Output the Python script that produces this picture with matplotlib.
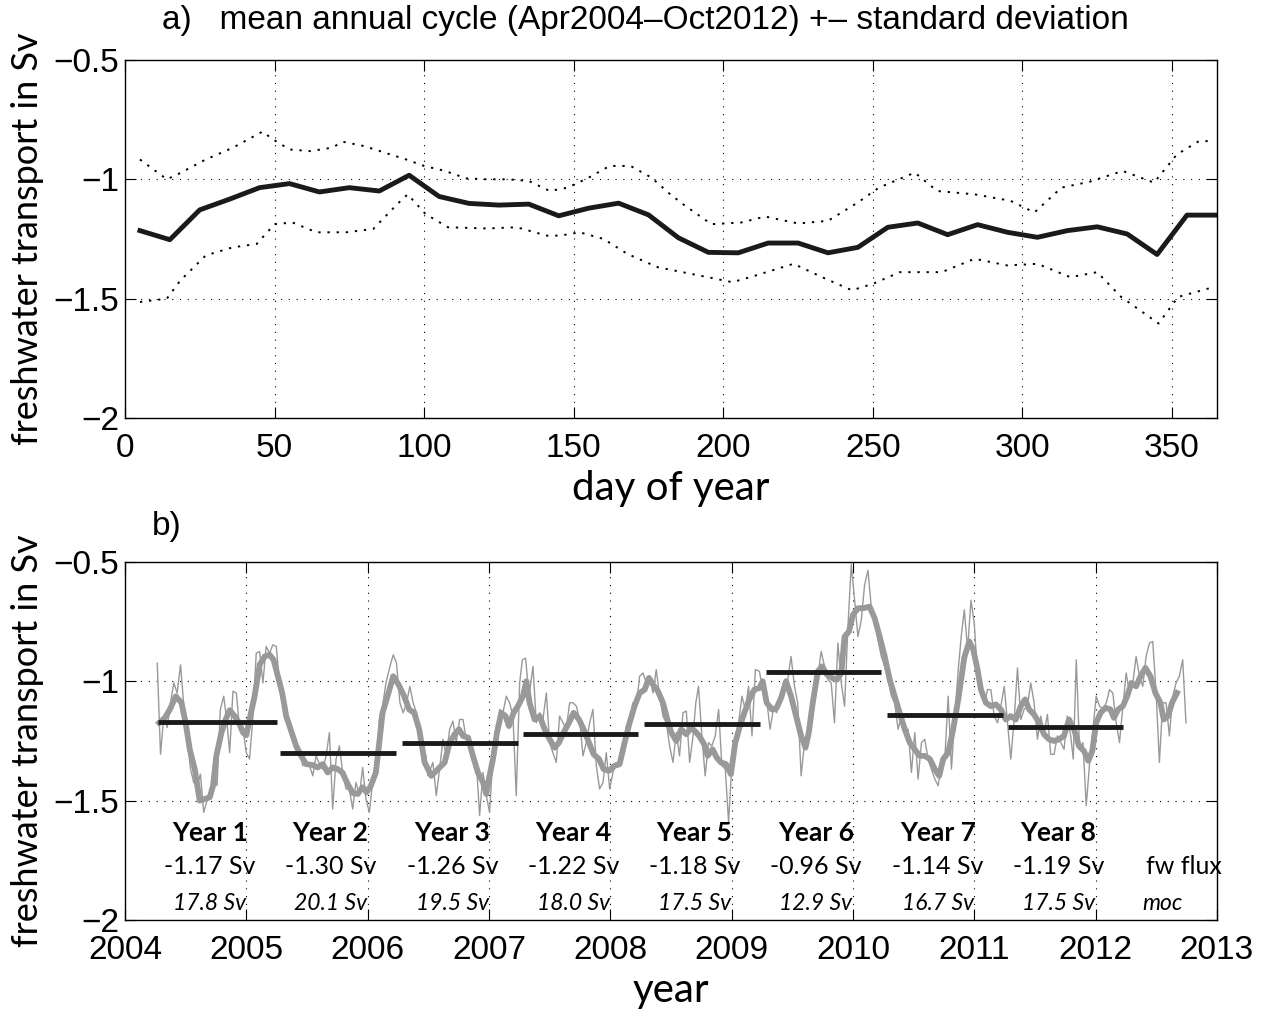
import numpy as np
import matplotlib
matplotlib.use("Agg")
import matplotlib.pyplot as plt

# ---- panel a: mean annual cycle +- std ----
day_mean = [5, 15, 25, 35, 45, 55, 65, 75, 85, 95, 105, 115, 125, 135, 145, 155,
            165, 175, 185, 195, 205, 215, 225, 235, 245, 255, 265, 275, 285, 295,
            305, 315, 325, 335, 345, 355, 365]
fw_mean = [-1.215, -1.253, -1.128, -1.083, -1.035, -1.018, -1.053, -1.035, -1.049,
           -0.983, -1.072, -1.101, -1.108, -1.104, -1.153, -1.121, -1.100, -1.149,
           -1.245, -1.306, -1.308, -1.267, -1.267, -1.308, -1.285, -1.201, -1.183,
           -1.232, -1.190, -1.222, -1.243, -1.215, -1.199, -1.229, -1.315, -1.150,
           -1.150]

day_upper = [5, 14, 17.5, 27, 36, 46, 49.5, 55, 62, 69, 73, 80, 87, 94, 100, 107,
             114, 121, 128, 135, 142, 148, 155, 162, 169, 176, 182, 186.5, 196, 206,
             214, 225, 235, 245, 252, 264, 271.5, 284, 296, 304, 313, 322.5, 333.5,
             344, 351.6, 359, 364]
fw_upper = [-0.917, -1.0, -0.98, -0.917, -0.868, -0.80, -0.833, -0.875, -0.882,
            -0.868, -0.843, -0.861, -0.889, -0.917, -0.944, -0.965, -0.996, -1.0,
            -1.0, -1.007, -1.049, -1.035, -0.993, -0.944, -0.944, -0.993, -1.06,
            -1.104, -1.188, -1.181, -1.156, -1.185, -1.174, -1.097, -1.035, -0.972,
            -1.049, -1.063, -1.09, -1.139, -1.035, -1.01, -0.965, -1.014, -0.896,
            -0.840, -0.840]

day_lower = [5, 14, 18.5, 27, 36, 44, 50, 56, 64, 74, 83, 91, 94.5, 100.5, 108, 121,
             131, 141, 145.5, 152, 160, 168, 178, 192, 203, 209, 223.5, 233, 243,
             250, 259, 273, 284, 295, 305, 316, 325, 333, 345.5, 352, 362, 364]
fw_lower = [-1.514, -1.5, -1.424, -1.319, -1.285, -1.271, -1.188, -1.181, -1.222,
            -1.222, -1.208, -1.104, -1.063, -1.146, -1.201, -1.206, -1.201, -1.236,
            -1.236, -1.222, -1.25, -1.313, -1.368, -1.403, -1.431, -1.41, -1.354,
            -1.41, -1.465, -1.438, -1.389, -1.389, -1.333, -1.361, -1.354, -1.41,
            -1.389, -1.493, -1.604, -1.493, -1.458, -1.463]

# ---- panel b: time series ----
t_thin = [2004.266, 2004.293, 2004.32, 2004.348, 2004.375, 2004.403, 2004.43, 2004.458,
          2004.485, 2004.512, 2004.54, 2004.567, 2004.595, 2004.622, 2004.649, 2004.677,
          2004.704, 2004.732, 2004.759, 2004.786, 2004.814, 2004.841, 2004.863, 2004.89,
          2004.918, 2004.945, 2004.973, 2005.0, 2005.027, 2005.055, 2005.082, 2005.11,
          2005.137, 2005.164, 2005.192, 2005.219, 2005.247, 2005.274, 2005.301, 2005.329,
          2005.356, 2005.384, 2005.411, 2005.438, 2005.466, 2005.493, 2005.521, 2005.548,
          2005.575, 2005.603, 2005.63, 2005.658, 2005.685, 2005.712, 2005.74, 2005.767,
          2005.795, 2005.822, 2005.849, 2005.877, 2005.904, 2005.932, 2005.959, 2005.986,
          2006.014, 2006.041, 2006.068, 2006.096, 2006.123, 2006.151, 2006.184, 2006.211,
          2006.238, 2006.266, 2006.293, 2006.321, 2006.348, 2006.375, 2006.403, 2006.438,
          2006.479, 2006.497, 2006.538, 2006.566, 2006.593, 2006.621, 2006.648, 2006.676,
          2006.703, 2006.731, 2006.758, 2006.786, 2006.813, 2006.841, 2006.868, 2006.896,
          2006.923, 2006.951, 2006.978, 2007.005, 2007.033, 2007.06, 2007.088, 2007.115,
          2007.143, 2007.17, 2007.198, 2007.225, 2007.253, 2007.275, 2007.302, 2007.33,
          2007.363, 2007.39, 2007.418, 2007.445, 2007.473, 2007.5, 2007.527, 2007.555,
          2007.582, 2007.61, 2007.637, 2007.665, 2007.692, 2007.72, 2007.747, 2007.775,
          2007.802, 2007.83, 2007.857, 2007.885, 2007.912, 2007.94, 2007.967, 2007.995,
          2008.022, 2008.049, 2008.077, 2008.104, 2008.132, 2008.159, 2008.187, 2008.214,
          2008.242, 2008.269, 2008.297, 2008.324, 2008.352, 2008.379, 2008.407, 2008.434,
          2008.462, 2008.489, 2008.517, 2008.544, 2008.571, 2008.599, 2008.627, 2008.654,
          2008.682, 2008.705, 2008.727, 2008.755, 2008.782, 2008.81, 2008.837, 2008.865,
          2008.893, 2008.92, 2008.948, 2008.975, 2009.003, 2009.03, 2009.058, 2009.085,
          2009.113, 2009.14, 2009.168, 2009.196, 2009.229, 2009.262, 2009.289, 2009.317,
          2009.344, 2009.372, 2009.4, 2009.427, 2009.455, 2009.49, 2009.518, 2009.545,
          2009.573, 2009.601, 2009.628, 2009.656, 2009.683, 2009.711, 2009.738, 2009.766,
          2009.793, 2009.821, 2009.848, 2009.876, 2009.904, 2009.931, 2009.959, 2009.986,
          2010.014, 2010.041, 2010.069, 2010.096, 2010.124, 2010.151, 2010.179, 2010.206,
          2010.234, 2010.262, 2010.289, 2010.317, 2010.344, 2010.372, 2010.399, 2010.427,
          2010.455, 2010.482, 2010.51, 2010.537, 2010.565, 2010.592, 2010.62, 2010.647,
          2010.675, 2010.702, 2010.73, 2010.757, 2010.785, 2010.812, 2010.84, 2010.868,
          2010.895, 2010.918, 2010.945, 2010.973, 2011.0, 2011.027, 2011.055, 2011.082,
          2011.11, 2011.137, 2011.164, 2011.192, 2011.219, 2011.247, 2011.274, 2011.301,
          2011.329, 2011.356, 2011.384, 2011.411, 2011.438, 2011.466, 2011.493, 2011.521,
          2011.548, 2011.575, 2011.603, 2011.63, 2011.658, 2011.685, 2011.712, 2011.74,
          2011.767, 2011.795, 2011.816, 2011.841, 2011.868, 2011.896, 2011.923, 2011.951,
          2011.978, 2012.005, 2012.033, 2012.06, 2012.088, 2012.115, 2012.142, 2012.17,
          2012.197, 2012.225, 2012.252, 2012.279, 2012.307, 2012.334, 2012.362, 2012.389,
          2012.416, 2012.444, 2012.471, 2012.499, 2012.526, 2012.553, 2012.581, 2012.608,
          2012.636, 2012.663, 2012.69, 2012.718, 2012.745]
fw_thin = [-0.924, -1.306, -1.146, -1.194, -1.09, -1.007, -1.049, -0.931,
           -1.104, -1.229, -1.368, -1.424, -1.4375, -1.389, -1.549, -1.5,
           -1.479, -1.382, -1.4375, -1.118, -1.0625, -1.174, -1.299, -1.042,
           -1.049, -1.201, -1.201, -1.299, -1.326, -1.146, -0.882, -0.875,
           -1.007, -0.854, -0.882, -0.847, -0.854, -1.007, -1.0625, -1.16,
           -1.201, -1.229, -1.299, -1.299, -1.354, -1.333, -1.354, -1.396,
           -1.3125, -1.347, -1.368, -1.3125, -1.215, -1.535, -1.326, -1.271,
           -1.382, -1.451, -1.451, -1.535, -1.424, -1.479, -1.361, -1.493,
           -1.549, -1.424, -1.396, -1.16, -1.104, -1.007, -0.9375, -0.889,
           -0.924, -1.09, -1.132, -1.09, -1.021, -1.09, -1.132, -1.229,
           -1.3125, -1.396, -1.34, -1.479, -1.368, -1.243, -1.3125, -1.201,
           -1.167, -1.257, -1.16, -1.16, -1.243, -1.229, -1.285, -1.34,
           -1.5625, -1.382, -1.479, -1.549, -1.3125, -1.299, -1.118, -1.132,
           -1.0625, -1.09, -1.146, -1.479, -1.007, -0.910, -0.903, -1.0625,
           -0.9375, -1.174, -1.132, -1.16, -1.049, -1.257, -1.299, -1.34,
           -1.146, -1.174, -1.201, -1.09, -1.09, -1.104, -1.16, -1.3125,
           -1.257, -1.174, -1.118, -1.354, -1.451, -1.424, -1.299, -1.451,
           -1.382, -1.34, -1.354, -1.3125, -1.1875, -1.174, -1.09, -1.104,
           -0.979, -0.965, -1.007, -0.979, -1.049, -0.951, -1.0625, -1.146,
           -1.174, -1.271, -1.34, -1.215, -1.3125, -1.132, -1.125, -1.34,
           -1.229, -1.09, -1.021, -1.229, -1.396, -1.257, -1.271, -1.229,
           -1.118, -1.354, -1.368, -1.59, -1.34, -1.257, -1.174, -1.0625,
           -1.118, -1.021, -1.229, -0.951, -0.958, -1.049, -1.076, -1.201,
           -1.118, -1.132, -1.0625, -1.007, -1.021, -0.896, -1.021, -1.09,
           -1.396, -1.257, -1.229, -1.16, -1.035, -0.979, -0.875, -0.9375,
           -0.993, -1.007, -1.174, -0.840, -1.007, -1.104, -0.771, -0.51,
           -0.66, -0.8125, -0.743, -0.597, -0.535, -0.6875, -0.743, -0.826,
           -0.896, -0.9375, -0.993, -1.0625, -1.09, -1.201, -1.146, -1.215,
           -1.201, -1.382, -1.215, -1.41, -1.257, -1.243, -1.326, -1.368,
           -1.41, -1.4375, -1.354, -1.326, -1.0625, -1.368, -1.146, -0.951,
           -0.80, -0.701, -0.868, -0.66, -0.757, -0.979, -1.049, -1.09,
           -1.035, -1.035, -1.146, -1.174, -1.104, -1.021, -1.174, -1.326,
           -1.16, -0.944, -1.16, -1.118, -1.104, -1.007, -1.09, -1.243,
           -1.146, -1.215, -1.139, -1.306, -1.306, -1.229, -1.257, -1.285,
           -1.146, -1.229, -1.326, -0.910, -1.285, -1.257, -1.521, -1.34,
           -1.201, -1.0625, -1.104, -1.118, -1.09, -1.035, -1.049, -1.174,
           -1.257, -1.104, -0.965, -1.049, -1.007, -0.896, -0.979, -1.021,
           -0.896, -0.840, -0.833, -1.049, -1.34, -1.09, -1.09, -1.229,
           -1.0625, -1.007, -0.979, -0.910, -1.174]

t_smooth = [2004.282, 2004.329, 2004.37, 2004.419, 2004.466, 2004.50, 2004.534, 2004.575,
            2004.616, 2004.658, 2004.699, 2004.726, 2004.753, 2004.795, 2004.83, 2004.863,
            2004.904, 2004.94, 2004.973, 2005.0, 2005.027, 2005.068, 2005.11, 2005.151,
            2005.192, 2005.225, 2005.26, 2005.296, 2005.329, 2005.37, 2005.411, 2005.452,
            2005.493, 2005.548, 2005.589, 2005.63, 2005.671, 2005.712, 2005.753, 2005.792,
            2005.836, 2005.877, 2005.918, 2005.959, 2005.992, 2006.027, 2006.068, 2006.096,
            2006.123, 2006.164, 2006.211, 2006.255, 2006.301, 2006.342, 2006.384, 2006.425,
            2006.47, 2006.525, 2006.58, 2006.635, 2006.676, 2006.717, 2006.753, 2006.786,
            2006.827, 2006.868, 2006.909, 2006.951, 2006.978, 2007.005, 2007.033, 2007.066,
            2007.102, 2007.137, 2007.165, 2007.203, 2007.239, 2007.28, 2007.308, 2007.335,
            2007.376, 2007.418, 2007.459, 2007.5, 2007.541, 2007.577, 2007.615, 2007.659,
            2007.698, 2007.742, 2007.78, 2007.824, 2007.863, 2007.907, 2007.945, 2007.989,
            2008.036, 2008.077, 2008.118, 2008.159, 2008.2, 2008.242, 2008.283, 2008.319,
            2008.352, 2008.393, 2008.434, 2008.47, 2008.503, 2008.544, 2008.585, 2008.626,
            2008.668, 2008.709, 2008.733, 2008.774, 2008.802, 2008.843, 2008.876, 2008.912,
            2008.953, 2008.994, 2009.03, 2009.069, 2009.105, 2009.146, 2009.187, 2009.229,
            2009.256, 2009.289, 2009.333, 2009.372, 2009.408, 2009.449, 2009.49, 2009.532,
            2009.573, 2009.609, 2009.636, 2009.669, 2009.711, 2009.747, 2009.785, 2009.829,
            2009.868, 2009.904, 2009.931, 2009.967, 2010.0, 2010.041, 2010.083, 2010.138,
            2010.179, 2010.22, 2010.262, 2010.303, 2010.344, 2010.385, 2010.427, 2010.468,
            2010.509, 2010.551, 2010.592, 2010.634, 2010.675, 2010.711, 2010.744, 2010.785,
            2010.826, 2010.868, 2010.918, 2010.959, 2010.992, 2011.027, 2011.055, 2011.096,
            2011.137, 2011.178, 2011.219, 2011.26, 2011.301, 2011.342, 2011.384, 2011.419,
            2011.452, 2011.493, 2011.534, 2011.575, 2011.616, 2011.658, 2011.699, 2011.74,
            2011.781, 2011.822, 2011.863, 2011.904, 2011.94, 2011.973, 2012.005, 2012.041,
            2012.082, 2012.123, 2012.151, 2012.186, 2012.225, 2012.26, 2012.296, 2012.334,
            2012.37, 2012.411, 2012.452, 2012.493, 2012.534, 2012.562, 2012.597, 2012.63,
            2012.671]
fw_smooth = [-1.174, -1.153, -1.118, -1.063, -1.09, -1.174, -1.285, -1.368,
             -1.50, -1.493, -1.486, -1.4375, -1.3125, -1.215, -1.16, -1.121,
             -1.146, -1.174, -1.215, -1.226, -1.16, -1.063, -0.931, -0.896,
             -0.889, -0.910, -0.979, -1.049, -1.146, -1.208, -1.271, -1.3125,
             -1.347, -1.351, -1.361, -1.347, -1.382, -1.361, -1.368, -1.382,
             -1.431, -1.468, -1.472, -1.444, -1.465, -1.4375, -1.382, -1.257,
             -1.132, -1.0625, -0.979, -1.014, -1.0625, -1.118, -1.132, -1.201,
             -1.34, -1.396, -1.368, -1.34, -1.257, -1.222, -1.201, -1.229,
             -1.236, -1.3125, -1.382, -1.424, -1.472, -1.396, -1.326, -1.215,
             -1.132, -1.146, -1.1875, -1.132, -1.104, -1.0625, -1.0, -1.09,
             -1.16, -1.146, -1.201, -1.243, -1.278, -1.257, -1.215, -1.174,
             -1.132, -1.16, -1.201, -1.257, -1.306, -1.326, -1.368, -1.375,
             -1.354, -1.347, -1.257, -1.174, -1.104, -1.049, -1.035, -0.986,
             -1.014, -1.042, -1.09, -1.16, -1.215, -1.25, -1.201, -1.222,
             -1.194, -1.215, -1.229, -1.264, -1.3125, -1.285, -1.319, -1.34,
             -1.347, -1.389, -1.257, -1.1875, -1.132, -1.076, -1.035, -1.028,
             -1.0, -1.09, -1.118, -1.111, -1.069, -1.0, -1.0625, -1.146,
             -1.229, -1.278, -1.215, -1.09, -0.958, -0.9375, -0.972, -0.986,
             -0.993, -0.965, -0.8125, -0.792, -0.722, -0.694, -0.694, -0.6875,
             -0.736, -0.8125, -0.896, -0.993, -1.0625, -1.132, -1.201, -1.257,
             -1.285, -1.3125, -1.3125, -1.326, -1.368, -1.396, -1.326, -1.299,
             -1.201, -1.076, -0.90, -0.833, -0.868, -0.951, -1.035, -1.09,
             -1.104, -1.097, -1.118, -1.16, -1.146, -1.16, -1.104, -1.076,
             -1.118, -1.139, -1.174, -1.222, -1.243, -1.25, -1.243, -1.229,
             -1.16, -1.201, -1.271, -1.292, -1.333, -1.292, -1.174, -1.132,
             -1.111, -1.118, -1.153, -1.118, -1.104, -1.0625, -1.007, -1.021,
             -0.979, -0.944, -0.979, -1.049, -1.09, -1.16, -1.146, -1.09,
             -1.049]

# annual means (fw flux) and moc per year
year_start = [2004.27, 2005.28, 2006.28, 2007.28, 2008.28, 2009.28, 2010.28, 2011.28]
year_end = [2005.25, 2006.23, 2007.24, 2008.23, 2009.23, 2010.23, 2011.24, 2012.23]
fw_year = [-1.17, -1.30, -1.26, -1.22, -1.18, -0.96, -1.14, -1.19]
moc_year = [17.8, 20.1, 19.5, 18.0, 17.5, 12.9, 16.7, 17.5]
year_names = ["Year 1", "Year 2", "Year 3", "Year 4", "Year 5", "Year 6", "Year 7", "Year 8"]

tick_font = "Liberation Sans"
label_font = "Lato"
gray = "#999999"


def style_axes(ax):
    ax.set_ylim(-2, -0.5)
    ax.set_yticks([-2, -1.5, -1, -0.5])
    ax.set_yticklabels(["\u22122", "\u22121.5", "\u22121", "\u22120.5"])
    ax.grid(True, color="black", linestyle=(0, (1, 6)), linewidth=0.8)
    ax.tick_params(direction="in", length=8, width=0.8, top=True, right=True,
                   labelsize=24)
    ax.tick_params(axis="x", pad=11)
    ax.tick_params(axis="y", pad=4)
    for lab in ax.get_xticklabels() + ax.get_yticklabels():
        lab.set_fontfamily(tick_font)
    for sp in ax.spines.values():
        sp.set_linewidth(1.0)
    ax.set_ylabel("freshwater transport in Sv", fontsize=26, family=label_font,
                  labelpad=7)


fig = plt.figure(figsize=(12.7, 10.18), dpi=100)
ax1 = fig.add_axes([0.0984, 0.5894, 0.8598, 0.3517])
ax2 = fig.add_axes([0.0984, 0.0963, 0.8598, 0.3517])

# panel a
ax1.plot(day_upper, fw_upper, color="black", linestyle=(0, (1.2, 3.5)), linewidth=1.4)
ax1.plot(day_lower, fw_lower, color="black", linestyle=(0, (1.2, 3.5)), linewidth=1.4)
ax1.plot(day_mean, fw_mean, color="#1a1a1a", linewidth=3.5)
ax1.set_xlim(0, 365)
ax1.set_xticks(range(0, 351, 50))
style_axes(ax1)
ax1.set_xlabel("day of year", fontsize=29, family=label_font, labelpad=4)
fig.text(645 / 1270, 1 - 21 / 1018,
         "a)   mean annual cycle (Apr2004\u2013Oct2012) +\u2013 standard deviation",
         ha="center", va="center", fontsize=24, family=tick_font)

# panel b
ax2.plot(t_thin, fw_thin, color=gray, linewidth=1.0)
ax2.plot(t_smooth, fw_smooth, color=gray, linewidth=4.2, solid_joinstyle="round")
ax2.hlines(fw_year, year_start, year_end, colors="#1a1a1a", linewidth=3.5)
ax2.set_xlim(2004, 2013)
ax2.set_xticks(range(2004, 2014))
style_axes(ax2)
ax2.set_xlabel("year", fontsize=29, family=label_font, labelpad=4)
fig.text(152 / 1270, 1 - 527 / 1018, "b)", ha="left", va="center",
         fontsize=24, family=tick_font)

for s, e, name, fw, moc in zip(year_start, year_end, year_names, fw_year, moc_year):
    xc = (s + e) / 2 - 0.06
    ax2.text(xc, -1.635, name, ha="center", va="center", fontsize=19,
             fontweight="bold", family=label_font)
    ax2.text(xc, -1.775, "%.2f Sv" % fw, ha="center", va="center", fontsize=18,
             family=label_font)
    ax2.text(xc, -1.93, "%.1f Sv" % moc, ha="center", va="center", fontsize=16.5,
             style="italic", family=label_font)
ax2.text(2012.73, -1.775, "fw flux", ha="center", va="center", fontsize=18,
         family=label_font)
ax2.text(2012.55, -1.93, "moc", ha="center", va="center", fontsize=16.5,
         style="italic", family=label_font)

fig.savefig("out.png", dpi=100)
